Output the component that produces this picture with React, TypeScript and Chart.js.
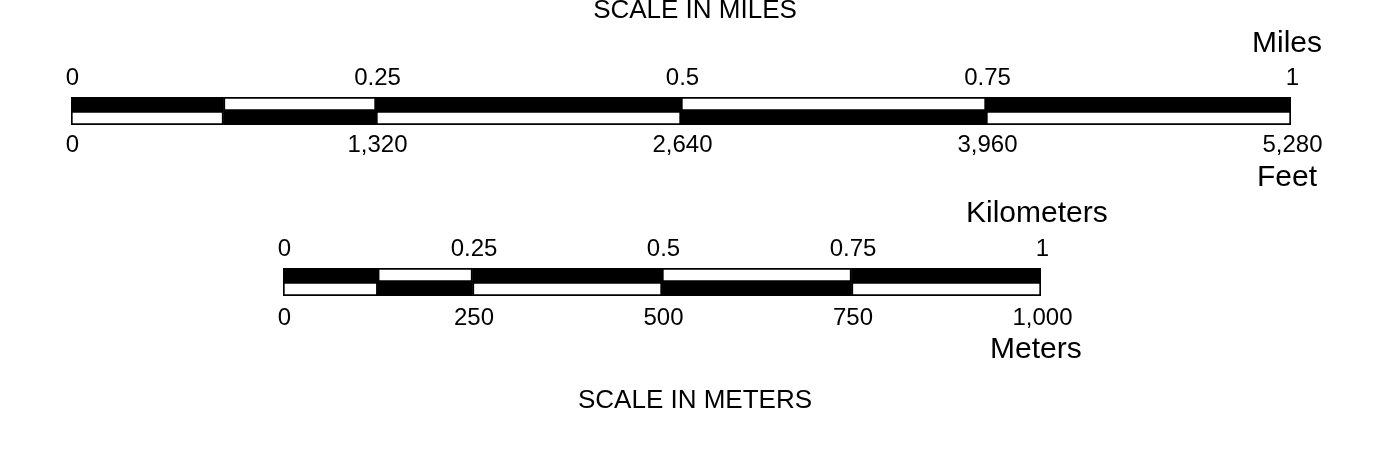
import React, { useEffect, useRef } from "react";
import { Chart, registerables } from "chart.js";

Chart.register(...registerables);

// ---------- Data ----------
// Miles / Feet scale bar
const milesTicks = [0, 0.25, 0.5, 0.75, 1];
const milesTickLabels = ["0", "0.25", "0.5", "0.75", "1"];
const feetTicks = [0, 1320, 2640, 3960, 5280];
const feetTickLabels = ["0", "1,320", "2,640", "3,960", "5,280"];

const milesSegStarts = [0, 0.125, 0.25, 0.5, 0.75];
const milesSegEnds = [0.125, 0.25, 0.5, 0.75, 1];
const milesSegFilled = [true, false, true, false, true];

const feetSegStarts = [0, 660, 1320, 2640, 3960];
const feetSegEnds = [660, 1320, 2640, 3960, 5280];
const feetSegFilled = [false, true, false, true, false];

// Kilometers / Meters scale bar
const kmTicks = [0, 0.25, 0.5, 0.75, 1];
const kmTickLabels = ["0", "0.25", "0.5", "0.75", "1"];
const meterTicks = [0, 250, 500, 750, 1000];
const meterTickLabels = ["0", "250", "500", "750", "1,000"];

const kmSegStarts = [0, 0.125, 0.25, 0.5, 0.75];
const kmSegEnds = [0.125, 0.25, 0.5, 0.75, 1];
const kmSegFilled = [true, false, true, false, true];

const meterSegStarts = [0, 125, 250, 500, 750];
const meterSegEnds = [125, 250, 500, 750, 1000];
const meterSegFilled = [false, true, false, true, false];

const FONT = '"Liberation Sans", Arial, Helvetica, sans-serif';
const W = 1383;
const H = 464;

type Spec = {
  upperMax: number;
  lowerMax: number;
  upperStarts: number[];
  upperEnds: number[];
  upperFilled: boolean[];
  lowerStarts: number[];
  lowerEnds: number[];
  lowerFilled: boolean[];
  upperTicks: number[];
  upperLabels: string[];
  lowerTicks: number[];
  lowerLabels: string[];
  padding: { left: number; right: number; top: number; bottom: number };
  lowerLabelGap: number;
  upperUnit: string;
  upperUnitX: number;
  upperUnitY: number;
  lowerUnit: string;
  lowerUnitX: number;
  lowerUnitY: number;
  title: string;
  titleY: number;
};

const scaleTextPlugin = {
  id: "scaleText",
  afterDraw(chart: any, _args: any, opts: any) {
    const spec: Spec = opts.spec;
    if (!spec) return;
    const ctx = chart.ctx as CanvasRenderingContext2D;
    const area = chart.chartArea;
    const xu = chart.scales.xUpper;
    const xl = chart.scales.xLower;
    ctx.save();
    ctx.fillStyle = "#000";
    ctx.textBaseline = "alphabetic";

    ctx.font = `24px ${FONT}`;
    ctx.textAlign = "center";
    spec.upperTicks.forEach((v, i) => {
      ctx.fillText(spec.upperLabels[i], xu.getPixelForValue(v) + 1.5, area.top - 12);
    });
    spec.lowerTicks.forEach((v, i) => {
      ctx.fillText(spec.lowerLabels[i], xl.getPixelForValue(v) + 1.5, area.bottom + spec.lowerLabelGap);
    });

    ctx.font = `30px ${FONT}`;
    ctx.textAlign = "left";
    ctx.fillText(spec.upperUnit, spec.upperUnitX, spec.upperUnitY);
    ctx.fillText(spec.lowerUnit, spec.lowerUnitX, spec.lowerUnitY);

    ctx.font = `26px ${FONT}`;
    ctx.textAlign = "center";
    ctx.fillText(spec.title, 695, spec.titleY);
    ctx.restore();
  },
};

function buildConfig(spec: Spec): any {
  const common = {
    borderColor: "#000",
    borderSkipped: false,
    grouped: false,
    barPercentage: 1,
    categoryPercentage: 1,
  };
  return {
    type: "bar",
    data: {
      labels: ["upper", "lower"],
      datasets: [
        {
          ...common,
          xAxisID: "xUpper",
          data: spec.upperStarts.map((s, i) => ({ y: "upper", x: [s, spec.upperEnds[i]] })),
          backgroundColor: spec.upperFilled.map((f) => (f ? "#000" : "#fff")),
          borderWidth: spec.upperFilled.map((f) => (f ? 0 : 2)),
        },
        {
          ...common,
          xAxisID: "xLower",
          data: spec.lowerStarts.map((s, i) => ({ y: "lower", x: [s, spec.lowerEnds[i]] })),
          backgroundColor: spec.lowerFilled.map((f) => (f ? "#000" : "#fff")),
          borderWidth: spec.lowerFilled.map((f) => (f ? 0 : 2)),
        },
      ],
    },
    options: {
      indexAxis: "y",
      animation: false,
      responsive: false,
      events: [],
      layout: { padding: spec.padding },
      plugins: {
        legend: { display: false },
        tooltip: { enabled: false },
        scaleText: { spec },
      },
      scales: {
        y: { type: "category", display: false, offset: true },
        xUpper: { type: "linear", axis: "x", min: 0, max: spec.upperMax, display: false },
        xLower: { type: "linear", axis: "x", min: 0, max: spec.lowerMax, display: false },
      },
    },
    plugins: [scaleTextPlugin],
  };
}

const milesSpec: Spec = {
  upperMax: 1,
  lowerMax: 5280,
  upperStarts: milesSegStarts,
  upperEnds: milesSegEnds,
  upperFilled: milesSegFilled,
  lowerStarts: feetSegStarts,
  lowerEnds: feetSegEnds,
  lowerFilled: feetSegFilled,
  upperTicks: milesTicks,
  upperLabels: milesTickLabels,
  lowerTicks: feetTicks,
  lowerLabels: feetTickLabels,
  padding: { left: 71, right: W - 1291, top: 97, bottom: H - 125 },
  lowerLabelGap: 26.5,
  upperUnit: "Miles",
  upperUnitX: 1252,
  upperUnitY: 52,
  lowerUnit: "Feet",
  lowerUnitX: 1257,
  lowerUnitY: 186,
  title: "SCALE IN MILES",
  titleY: 17.5,
};

const kmSpec: Spec = {
  upperMax: 1,
  lowerMax: 1000,
  upperStarts: kmSegStarts,
  upperEnds: kmSegEnds,
  upperFilled: kmSegFilled,
  lowerStarts: meterSegStarts,
  lowerEnds: meterSegEnds,
  lowerFilled: meterSegFilled,
  upperTicks: kmTicks,
  upperLabels: kmTickLabels,
  lowerTicks: meterTicks,
  lowerLabels: meterTickLabels,
  padding: { left: 283, right: W - 1041, top: 268, bottom: H - 296 },
  lowerLabelGap: 28.5,
  upperUnit: "Kilometers",
  upperUnitX: 966,
  upperUnitY: 222,
  lowerUnit: "Meters",
  lowerUnitX: 990,
  lowerUnitY: 358,
  title: "SCALE IN METERS",
  titleY: 407.5,
};

function ScaleBar({ spec }: { spec: Spec }) {
  const ref = useRef<HTMLCanvasElement | null>(null);
  useEffect(() => {
    if (!ref.current) return;
    const chart = new Chart(ref.current, buildConfig(spec));
    return () => chart.destroy();
  }, [spec]);
  return (
    <canvas
      ref={ref}
      width={W}
      height={H}
      style={{ position: "absolute", left: 0, top: 0, width: W, height: H }}
    />
  );
}

export default function App() {
  return (
    <div style={{ position: "absolute", left: 0, top: 0, width: W, height: H, background: "#fff" }}>
      <ScaleBar spec={milesSpec} />
      <ScaleBar spec={kmSpec} />
    </div>
  );
}
